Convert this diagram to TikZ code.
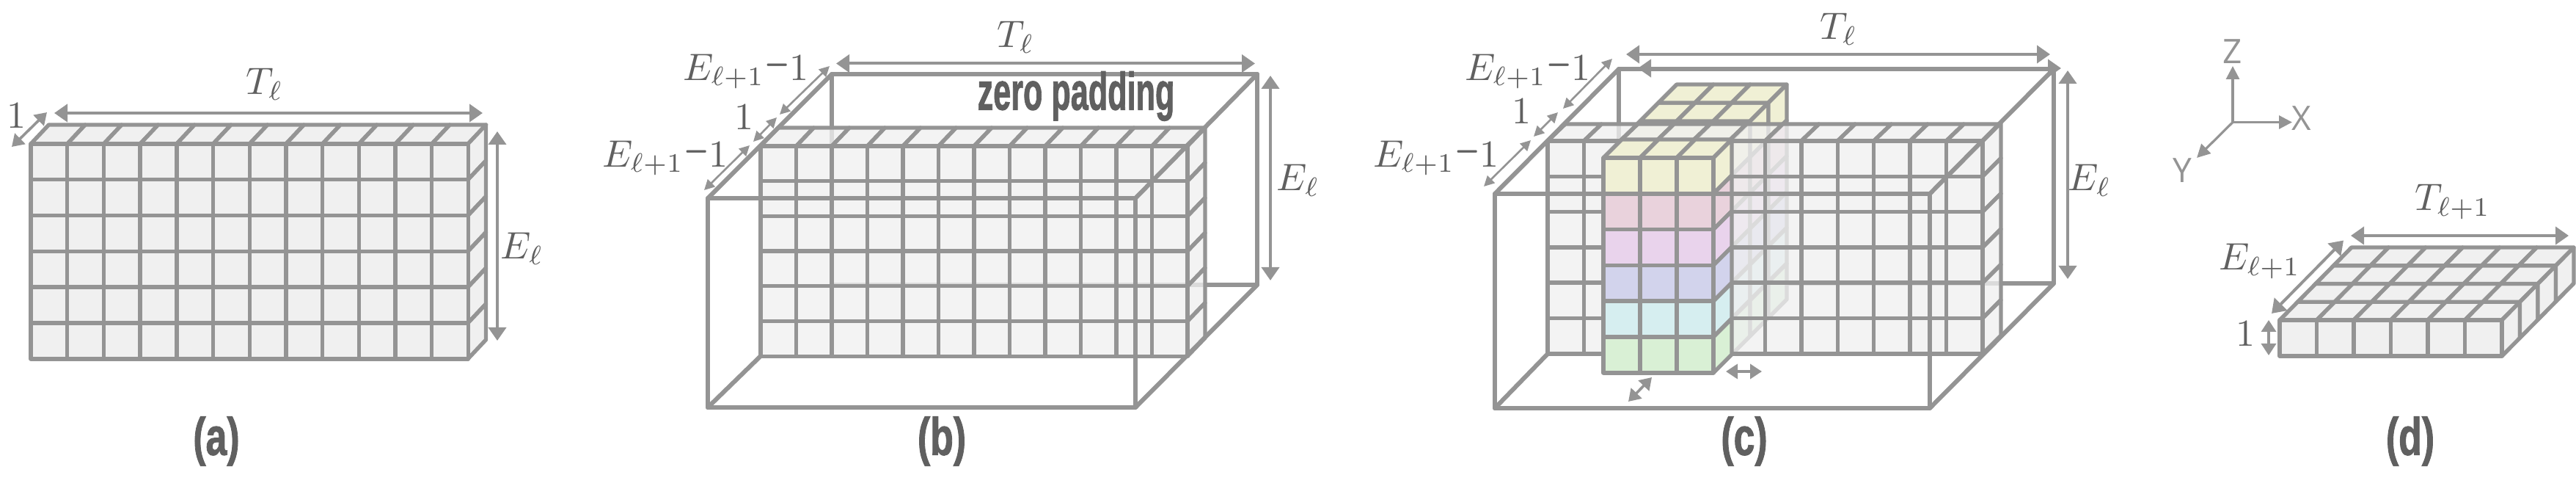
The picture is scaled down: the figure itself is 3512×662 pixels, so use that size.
\documentclass[tikz,border=0pt]{standalone}
\usepackage{fontspec}
\usetikzlibrary{arrows.meta}
\newfontfamily\capfont[BoldFeatures={FakeBold=1.6}]{Liberation Sans}
\newfontfamily\axfont{Open Sans}
\definecolor{ln}{HTML}{949494}
\definecolor{ink}{HTML}{606060}
\definecolor{cellg}{HTML}{F0F0F0}
\definecolor{yel}{HTML}{F0F0D5}
\definecolor{pnk}{HTML}{E9D2DC}
\definecolor{lil}{HTML}{E9D3EC}
\definecolor{blu}{HTML}{D2D3EC}
\definecolor{cya}{HTML}{D6EEF0}
\definecolor{grn}{HTML}{D9F0D5}
\newcommand{\mth}[1]{\scalebox{2.6}{$#1$}}
\newcommand{\minusone}{\scalebox{.85}[1.6]{$-$}1}
\tikzset{
  cell/.style={draw=ln,line width=2.7pt,line join=round,fill=cellg},
  ghostcell/.style={cell,fill=cellg,fill opacity=.78},
  wire/.style={draw=ln,line width=3pt,line join=round,line cap=round},
  dimarrow/.style={draw=ln,line width=2pt,{Triangle[length=9pt,width=12pt]}-{Triangle[length=9pt,width=12pt]}},
  thinarrow/.style={draw=ln,line width=1.3pt,{Triangle[length=7pt,width=7pt]}-{Triangle[length=7pt,width=7pt]}},
  shortarrow/.style={draw=ln,line width=1.8pt,{Triangle[length=8pt,width=10pt]}-{Triangle[length=8pt,width=10pt]}},
  axisarrow/.style={draw=ln,line width=1.6pt,-{Triangle[length=9pt,width=9pt]}},
  lab/.style={text=ink,inner sep=0pt},
  captext/.style={text=ink,inner sep=0pt,font=\capfont\bfseries\fontsize{36}{40}\selectfont},
  axlab/.style={text=ln,inner sep=0pt,font=\axfont\fontsize{23}{26}\selectfont}
}
% X,Y,cw,ch,nc,nr,style
\newcommand{\frontcells}[7]{\foreach \i in {1,...,#5}\foreach \j in {1,...,#6}
  \draw[cell,#7] ({#1+(\i-1)*#3},{#2+(\j-1)*#4}) rectangle ++(#3,#4);}
% X,Y,cw,dx,dy,nc,nd,style
\newcommand{\topcells}[8]{\foreach \i in {1,...,#6}\foreach \k in {1,...,#7}
  \draw[cell,#8] ({#1+(\i-1)*#3+(\k-1)*#4},{#2+(\k-1)*#5}) -- ++(#3,0) -- ++(#4,#5) -- ++(-#3,0) -- cycle;}
% X,Y,ch,dx,dy,nr,nd,style
\newcommand{\sidecells}[8]{\foreach \j in {1,...,#6}\foreach \k in {1,...,#7}
  \draw[cell,#8] ({#1+(\k-1)*#4},{#2+(\j-1)*#3+(\k-1)*#5}) -- ++(0,#3) -- ++(#4,#5) -- ++(0,-#3) -- cycle;}
% prefix, style, x1,y1,x2,y2
\newcommand{\dimline}[6]{\coordinate (#1a) at (#3,#4);\coordinate (#1b) at (#5,#6);\draw[#2] (#1a) -- (#1b);}
\newcommand{\wireback}[8]{\draw[wire] (#5,#8) rectangle (#6,#7);}
\newcommand{\wirefront}[8]{%
  \draw[wire] (#1,#3) rectangle (#2,#4);
  \draw[wire] (#1,#3) -- (#5,#7);
  \draw[wire] (#2,#3) -- (#6,#7);
  \draw[wire] (#2,#4) -- (#6,#8);}
\begin{document}
\begin{tikzpicture}[x=0.5pt,y=-0.5pt]
\useasboundingbox (0,0) rectangle (3512,662);

% ===== (a)
\topcells{42}{196}{49.7}{24.5}{-26}{12}{1}{}
\sidecells{638}{196}{48.8}{24.5}{-26}{6}{1}{}
\frontcells{42}{196}{49.7}{48.8}{12}{6}{}
\dimline{aT}{dimarrow}{74}{154}{658}{154}
\dimline{aO}{shortarrow}{64}{153}{16}{200}
\dimline{aE}{dimarrow}{678}{179}{678}{464}
\node[lab] (aTl) at (361,115) {\mth{T_\ell}};
\node[lab] (aOne) at (23,158) {\mth{1}};
\node[lab] (aEl) at (712,339) {\mth{E_\ell}};
\node[captext] (aCap) at (295,601) {\scalebox{.72}[1]{(a)}};

% ===== (b)
\wireback{965}{1548}{270}{555}{1134}{1714}{101}{388}
\draw[wire] (965,555) -- (1037,485);
\topcells{1037}{199}{48.5}{24}{-25}{12}{1}{ghostcell}
\sidecells{1619}{199}{47.7}{24}{-25}{6}{1}{ghostcell}
\frontcells{1037}{199}{48.5}{47.7}{12}{6}{ghostcell}
\wirefront{965}{1548}{270}{555}{1134}{1714}{101}{388}
\dimline{bT}{dimarrow}{1140}{86.5}{1711}{86.5}
\dimline{bE}{dimarrow}{1732}{103}{1732}{382}
\dimline{bD1}{thinarrow}{1131}{90}{1063}{156}
\dimline{bD2}{thinarrow}{1059}{160}{1027}{193}
\dimline{bD3}{thinarrow}{1022}{198}{960}{259}
\node[lab] (bTl) at (1385,51) {\mth{T_\ell}};
\node[lab] (bEl) at (1770,246) {\mth{E_\ell}};
\node[lab] (bE1) at (1017,91) {\mth{E_{\ell+1}\minusone}};
\node[lab] (bOne) at (1014,160) {\mth{1}};
\node[lab] (bE2) at (907,209) {\mth{E_{\ell+1}\minusone}};
\node[captext] (zero) at (1467,131) {\scalebox{.6}[1]{zero padding}};
\node[captext] (bCap) at (1284,601) {\scalebox{.72}[1]{(b)}};

% ===== (c)
\wireback{2038}{2631}{264}{556}{2207}{2800}{94}{386}
\draw[wire] (2038,556) -- (2110,482);
% rear part of the pulled-out stack
\topcells{2211}{190}{50}{25}{-25}{3}{3}{fill=yel}
\foreach \c [count=\r from 0] in {yel,pnk,lil,blu,cya,grn}{
  \sidecells{2361}{190+\r*48.8}{48.8}{25}{-25}{1}{3}{fill=\c}
}
% plane of cells
\topcells{2110}{192}{49.4}{24}{-23}{12}{1}{ghostcell}
\sidecells{2703}{192}{48.3}{25}{-25}{6}{1}{ghostcell}
\frontcells{2110}{192}{49.4}{48.3}{12}{6}{ghostcell}
% front part of the stack
\topcells{2186}{215}{50}{25}{-25}{3}{1}{fill=yel}
\foreach \c [count=\r from 0] in {yel,pnk,lil,blu,cya,grn}{
  \sidecells{2336}{215+\r*48.8}{48.8}{25}{-25}{1}{1}{fill=\c}
  \frontcells{2186}{215+\r*48.8}{50}{48.8}{3}{1}{fill=\c}
}
\wirefront{2038}{2631}{264}{556}{2207}{2800}{94}{386}
\dimline{cT}{dimarrow}{2217}{74}{2795}{74}
\dimline{cT2}{dimarrow}{2233}{93}{2810}{93}
\dimline{cE}{dimarrow}{2819}{96}{2819}{380}
\dimline{cD1}{thinarrow}{2198}{80}{2131}{148}
\dimline{cD2}{thinarrow}{2124}{153}{2091}{186}
\dimline{cD3}{thinarrow}{2087}{191}{2023}{254}
\dimline{cS1}{shortarrow}{2353}{506}{2402}{506}
\dimline{cS2}{shortarrow}{2252}{514}{2220}{547}
\node[lab] (cTl) at (2507,40) {\mth{T_\ell}};
\node[lab] (cEl) at (2849,246) {\mth{E_\ell}};
\node[lab] (cE1) at (2083,91) {\mth{E_{\ell+1}\minusone}};
\node[lab] (cOne) at (2074,152) {\mth{1}};
\node[lab] (cE2) at (1958,209) {\mth{E_{\ell+1}\minusone}};
\node[captext] (cCap) at (2378,601) {\scalebox{.72}[1]{(c)}};

% ===== axes
\coordinate (o) at (3044,166.5);
\coordinate (zt) at (3044,90);
\coordinate (xt) at (3125,166.5);
\coordinate (yt) at (2995,215);
\draw[axisarrow] (o) -- (zt);
\draw[axisarrow] (o) -- (xt);
\draw[axisarrow] (o) -- (yt);
\node[axlab] (zl) at (3044,70) {Z};
\node[axlab] (xl) at (3138,161) {X};
\node[axlab] (yl) at (2975,232) {Y};

% ===== (d)
\topcells{3108}{436}{50.5}{24.5}{-24.75}{6}{4}{}
\sidecells{3411}{436}{49}{24.5}{-24.75}{1}{4}{}
\frontcells{3108}{436}{50.5}{49}{6}{1}{}
\dimline{dT}{dimarrow}{3205}{321}{3502}{321}
\dimline{dE}{dimarrow}{3195}{327.5}{3097}{427}
\dimline{dO}{shortarrow}{3093}{436}{3093}{484}
\node[lab] (dTl) at (3344,275) {\mth{T_{\ell+1}}};
\node[lab] (dEl) at (3081,356) {\mth{E_{\ell+1}}};
\node[lab] (dOne) at (3061,455) {\mth{1}};
\node[captext] (dCap) at (3286,601) {\scalebox{.72}[1]{(d)}};
\end{tikzpicture}
\end{document}
